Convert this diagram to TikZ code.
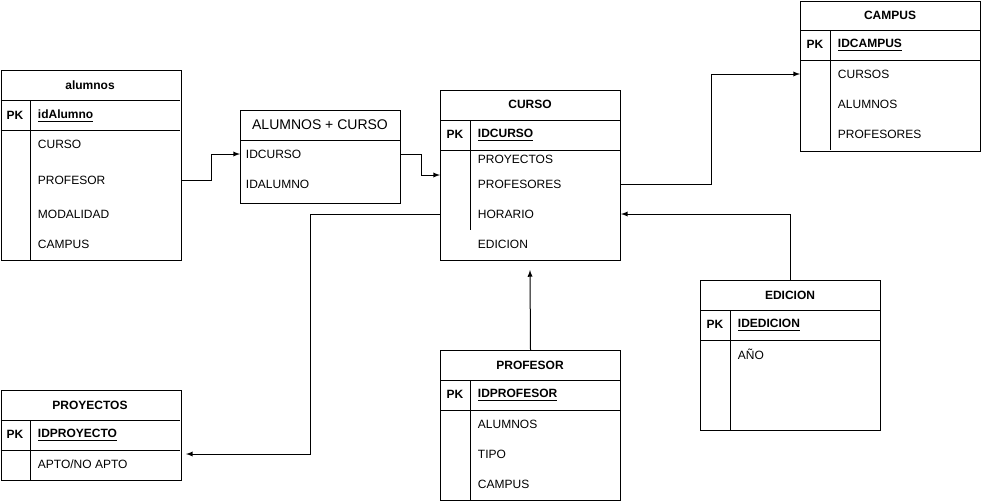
\documentclass[tikz,border=0pt]{standalone}
\usepackage{fontspec}
\setmainfont{Liberation Sans}
\usetikzlibrary{arrows}

\tikzset{
  tbl/.style={draw,line width=0.75pt,anchor=north west,inner sep=0pt},
  ttl/.style={font=\fontsize{9}{11}\selectfont\bfseries},
  pkey/.style={font=\fontsize{9}{11}\selectfont\bfseries},
  fld/.style={font=\fontsize{9}{11}\selectfont,anchor=west},
  keyfld/.style={font=\fontsize{9}{11}\selectfont\bfseries,anchor=west},
  link/.style={line width=0.75pt,-latex}
}

\begin{document}
\begin{tikzpicture}[x=0.75pt,y=-0.75pt,line width=0.75pt]
  \useasboundingbox (0,0) rectangle (981,501);

  % alumnos
  \node[tbl,minimum width=135pt,minimum height=142.5pt] (alumnos) at (0.5,70) {};
  \draw (0.5,100) -- (180,100) (0.5,130) -- (180,130) (30,100) -- (30,260);
  \node[ttl] (alTitle) at (90,85) {alumnos};
  \node[pkey] (alPK) at (15,115) {PK};
  \node[keyfld] (alId) at (33,116) {\underline{idAlumno}};
  \node[fld] (alCurso) at (33,144) {CURSO};
  \node[fld] (alProf) at (33,180) {PROFESOR};
  \node[fld] (alMod) at (33,214) {MODALIDAD};
  \node[fld] (alCampus) at (33,244) {CAMPUS};

  % alumnos + curso
  \node[tbl,minimum width=120pt,minimum height=69.75pt] (alcur) at (240,110) {};
  \draw (240,140) -- (400,140);
  \node[font=\fontsize{10.5}{12}\selectfont] (acTitle) at (320,125) {ALUMNOS + CURSO};
  \node[fld] (acCurso) at (241,154) {IDCURSO};
  \node[fld] (acAlumno) at (241,184) {IDALUMNO};

  % curso
  \node[tbl,minimum width=135pt,minimum height=127.5pt] (curso) at (440,90) {};
  \draw (440,120) -- (620,120) (440,150) -- (620,150) (470,120) -- (470,230);
  \node[ttl] (cuTitle) at (530,104) {CURSO};
  \node[pkey] (cuPK) at (455,134) {PK};
  \node[keyfld] (cuId) at (473,135) {\underline{IDCURSO}};
  \node[fld] (cuProy) at (473,159) {PROYECTOS};
  \node[fld] (cuProf) at (473,184) {PROFESORES};
  \node[fld] (cuHor) at (473,214) {HORARIO};
  \node[fld] (cuEd) at (473,244) {EDICION};

  % campus
  \node[tbl,minimum width=135pt,minimum height=112.5pt] (campus) at (800,0.5) {};
  \draw (800,30) -- (980,30) (800,60) -- (980,60) (830,30) -- (830,150);
  \node[ttl] (caTitle) at (890,15) {CAMPUS};
  \node[pkey] (caPK) at (815,44) {PK};
  \node[keyfld] (caId) at (833,45) {\underline{IDCAMPUS}};
  \node[fld] (caCursos) at (833,74) {CURSOS};
  \node[fld] (caAlum) at (833,104) {ALUMNOS};
  \node[fld] (caProf) at (833,134) {PROFESORES};

  % edicion
  \node[tbl,minimum width=135pt,minimum height=112.5pt] (edicion) at (700,280) {};
  \draw (700,310) -- (880,310) (700,340) -- (880,340) (730,310) -- (730,430);
  \node[ttl] (edTitle) at (790,295) {EDICION};
  \node[pkey] (edPK) at (715,324) {PK};
  \node[keyfld] (edId) at (733,325) {\underline{IDEDICION}};
  \node[fld] (edAnio) at (733,354) {AÑO};

  % profesor
  \node[tbl,minimum width=135pt,minimum height=112.5pt] (profesor) at (440,350) {};
  \draw (440,380) -- (620,380) (440,410) -- (620,410) (470,380) -- (470,500);
  \node[ttl] (prTitle) at (530,365) {PROFESOR};
  \node[pkey] (prPK) at (455,394) {PK};
  \node[keyfld] (prId) at (473,395) {\underline{IDPROFESOR}};
  \node[fld] (prAlum) at (473,424) {ALUMNOS};
  \node[fld] (prTipo) at (473,454) {TIPO};
  \node[fld] (prCampus) at (473,484) {CAMPUS};

  % proyectos
  \node[tbl,minimum width=135pt,minimum height=67.5pt] (proyectos) at (0.5,390) {};
  \draw (0.5,420) -- (180,420) (0.5,450) -- (180,450) (30,420) -- (30,480);
  \node[ttl] (pyTitle) at (90,405) {PROYECTOS};
  \node[pkey] (pyPK) at (15,434) {PK};
  \node[keyfld] (pyId) at (33,435) {\underline{IDPROYECTO}};
  \node[fld] (pyApto) at (33,464) {APTO/NO APTO};

  \coordinate (tipCurso) at (530,270);
  \coordinate (tipProy) at (186,454);

  \draw[link] (alumnos.east |- alProf) -- ++(30,0) |- (alcur.west |- acCurso);
  \draw[link] (alcur.east |- acCurso) -- ++(20,0) |- (curso.west |- 0,175);
  \draw[link] (curso.east |- cuProf) -- ++(90,0) |- (campus.west |- caCursos);
  \draw[link] (edicion.north) |- (curso.east |- cuHor);
  \draw[link] (profesor.north) -- (tipCurso);
  \draw[link] (curso.west |- cuHor) -- ++(-130,0) |- (tipProy);

\end{tikzpicture}
\end{document}
